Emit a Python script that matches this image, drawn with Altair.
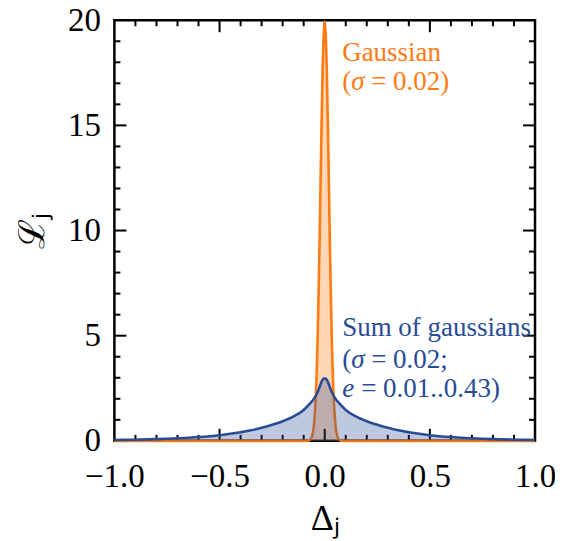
import altair as alt
import pandas as pd

# ---- data ----
gauss_x = [-1.0, -0.1, -0.08, -0.07, -0.06, -0.05, -0.045, -0.04, -0.035, -0.03, -0.025,
           -0.02, -0.015, -0.01, -0.005, 0.0, 0.005, 0.01, 0.015, 0.02, 0.025, 0.03,
           0.035, 0.04, 0.045, 0.05, 0.06, 0.07, 0.08, 0.1, 1.0]
gauss_y = [0.0, 0.0, 0.01, 0.04, 0.22, 0.88, 1.6, 2.7, 4.3, 6.5, 9.1,
           12.1, 15.0, 17.6, 19.3, 19.95, 19.3, 17.6, 15.0, 12.1, 9.1, 6.5,
           4.3, 2.7, 1.6, 0.88, 0.22, 0.04, 0.01, 0.0, 0.0]

sum_x = [-1.0, -0.9, -0.8, -0.7, -0.6, -0.5, -0.4, -0.35, -0.3, -0.25, -0.2, -0.15,
         -0.1, -0.075, -0.05, -0.03, -0.02, -0.01, 0.0, 0.01, 0.02, 0.03, 0.05, 0.075,
         0.1, 0.15, 0.2, 0.25, 0.3, 0.35, 0.4, 0.5, 0.6, 0.7, 0.8, 0.9, 1.0]
sum_y = [0.04, 0.055, 0.08, 0.12, 0.18, 0.27, 0.41, 0.5, 0.62, 0.76, 0.93, 1.15,
         1.47, 1.72, 2.02, 2.4, 2.68, 2.9, 2.97, 2.9, 2.68, 2.4, 2.02, 1.72,
         1.47, 1.15, 0.93, 0.76, 0.62, 0.5, 0.41, 0.27, 0.18, 0.12, 0.08, 0.055, 0.04]

x_labels = [-1.0, -0.5, 0.0, 0.5, 1.0]
y_labels = [0, 5, 10, 15, 20]
x_major = [-0.5, 0.0, 0.5]
x_minor = [-0.9, -0.8, -0.7, -0.6, -0.4, -0.3, -0.2, -0.1,
           0.1, 0.2, 0.3, 0.4, 0.6, 0.7, 0.8, 0.9]
y_major = [5, 10, 15]
y_minor = [1, 2, 3, 4, 6, 7, 8, 9, 11, 12, 13, 14, 16, 17, 18, 19]

# annotation anchors (data coordinates)
orange_ann_x = 0.083
orange_ann_y = [18.05, 16.67]
blue_ann_x = 0.083
blue_ann_y = [4.99, 3.47, 2.09]

W, H = 421, 421
ORANGE = "#FF7B12"
BLUE = "#294C96"
FONT = "Times New Roman"

xs = alt.Scale(domain=[-1, 1], nice=False, zero=False)
ys = alt.Scale(domain=[0, 20], nice=False, zero=False)

gauss_df = pd.DataFrame({"x": gauss_x, "y": gauss_y})
sum_df = pd.DataFrame({"x": sum_x, "y": sum_y})

X_AXIS = alt.Axis(values=x_labels, format=".1f", title="Δⱼ",
                  labelFlush=False, labelOverlap=False,
                  labelFont=FONT, titleFont=FONT)
Y_AXIS = alt.Axis(values=y_labels, format="d", title="ℒⱼ", labelOverlap=False,
                  labelFont=FONT, titleFont=FONT)
XE = alt.X("x:Q", scale=xs, axis=X_AXIS)
YE = alt.Y("y:Q", scale=ys, axis=Y_AXIS)

MAJ, MIN = 12, 6


def xticks(vals, length):
    d = pd.DataFrame({"x": vals})
    b = alt.Chart(d).mark_rule(color="black", strokeWidth=2).encode(
        x=XE, y=alt.value(H), y2=alt.value(H - length))
    t = alt.Chart(d).mark_rule(color="black", strokeWidth=2).encode(
        x=XE, y=alt.value(0), y2=alt.value(length))
    return [b, t]


def yticks(vals, length):
    d = pd.DataFrame({"y": vals})
    l = alt.Chart(d).mark_rule(color="black", strokeWidth=2).encode(
        y=YE, x=alt.value(0), x2=alt.value(length))
    r = alt.Chart(d).mark_rule(color="black", strokeWidth=2).encode(
        y=YE, x=alt.value(W), x2=alt.value(W - length))
    return [l, r]


def label(x, y, text, color, dx=0, italic=False):
    d = pd.DataFrame({"x": [x], "y": [y], "t": [text]})
    kw = {"fontStyle": "italic"} if italic else {}
    return alt.Chart(d).mark_text(
        align="left", baseline="alphabetic", font=FONT, fontSize=27, color=color,
        dx=dx, **kw
    ).encode(x=XE, y=YE, text="t:N")


orange_area = alt.Chart(gauss_df).mark_area(
    color=ORANGE, opacity=0.3, interpolate="monotone").encode(x=XE, y=YE)
orange_line = alt.Chart(gauss_df).mark_line(
    color=ORANGE, strokeWidth=2.6, interpolate="monotone").encode(x=XE, y=YE)
blue_area = alt.Chart(sum_df).mark_area(
    color=BLUE, opacity=0.3, interpolate="monotone").encode(x=XE, y=YE)
blue_line = alt.Chart(sum_df).mark_line(
    color=BLUE, strokeWidth=2.6, interpolate="monotone").encode(x=XE, y=YE)

texts = [
    label(orange_ann_x, orange_ann_y[0], "Gaussian", ORANGE),
    label(orange_ann_x, orange_ann_y[1], "(", ORANGE),
    label(orange_ann_x, orange_ann_y[1], "σ", ORANGE, dx=9, italic=True),
    label(orange_ann_x, orange_ann_y[1], "= 0.02)", ORANGE, dx=29),
    label(blue_ann_x, blue_ann_y[0], "Sum of gaussians", BLUE),
    label(blue_ann_x, blue_ann_y[1], "(", BLUE),
    label(blue_ann_x, blue_ann_y[1], "σ", BLUE, dx=9, italic=True),
    label(blue_ann_x, blue_ann_y[1], "= 0.02;", BLUE, dx=29),
    label(blue_ann_x, blue_ann_y[2], "e", BLUE, italic=True),
    label(blue_ann_x, blue_ann_y[2], "= 0.01..0.43)", BLUE, dx=19),
]

layers = ([orange_area]
          + xticks(x_major, MAJ) + xticks(x_minor, MIN)
          + yticks(y_major, MAJ) + yticks(y_minor, MIN)
          + [orange_line, blue_area, blue_line] + texts)

chart = alt.layer(*layers).properties(
    width=W, height=H,
    padding={"left": 106.5, "top": 12, "right": 20, "bottom": 100},
    autosize=alt.AutoSizeParams(type="none"),
).configure(
    font=FONT
).configure_view(
    stroke="black", strokeWidth=2.5
).configure_axis(
    domain=False, ticks=False, grid=False,
    labelFontSize=33, labelColor="black",
    titleFontSize=36, titleFontWeight="normal", titleColor="black",
).configure_axisX(
    labelPadding=20, titlePadding=8
).configure_axisY(
    labelPadding=14, titlePadding=16
)

chart.save("out.html", embed_options={"renderer": "svg", "actions": False})
